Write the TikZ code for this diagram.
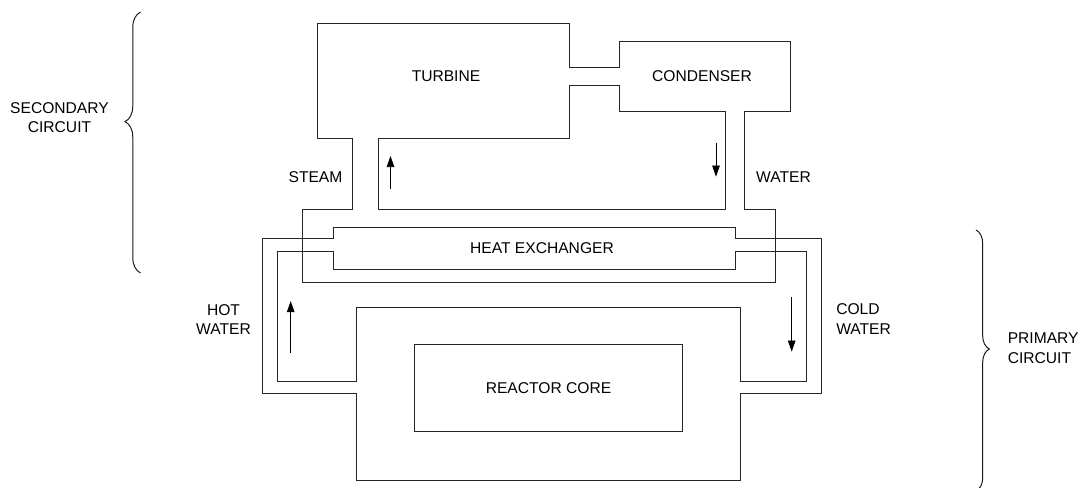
\documentclass[tikz,border=0pt]{standalone}
\usepackage{fontspec}
\setmainfont{Liberation Sans}
\usetikzlibrary{arrows.meta, decorations.pathreplacing}

\begin{document}
\begin{tikzpicture}[
    x=0.025cm, y=-0.025cm,
    wall/.style={draw=black!85, line width=0.8pt, line join=miter},
    lbl/.style={font=\fontsize{11.1}{13.9}\selectfont, align=center, inner sep=0pt},
    flow/.style={-{Triangle[length=2.8mm, width=1.9mm]}, line width=0.65pt},
    bracket/.style={draw=black!90, line width=0.7pt, decorate}]
  \useasboundingbox (0,0) rectangle (1079,487);
  % secondary circuit
  \draw[wall] (317.5,23.5) -- (569.5,23.5) -- (569.5,67.5) -- (619.5,67.5) -- (619.5,41.5) -- (790.5,41.5)
    -- (790.5,111.5) -- (744.5,111.5) -- (744.5,209.5) -- (775.5,209.5) -- (775.5,282.5)
    -- (302.5,282.5) -- (302.5,209.5) -- (352.5,209.5) -- (352.5,138.5) -- (317.5,138.5) -- cycle;
  \draw[wall] (378.5,138.5) -- (378.5,209.5) -- (725.5,209.5) -- (725.5,111.5) -- (619.5,111.5)
    -- (619.5,85.5) -- (569.5,85.5) -- (569.5,138.5) -- cycle;
  % primary circuit
  \draw[wall] (333.5,227.5) -- (735.5,227.5) -- (735.5,238.5) -- (821.5,238.5) -- (821.5,393.5)
    -- (740.5,393.5) -- (740.5,480.5) -- (356.5,480.5) -- (356.5,393.5) -- (262.5,393.5) -- (262.5,238.5)
    -- (333.5,238.5) -- cycle;
  \draw[wall] (333.5,251.5) -- (333.5,269.5) -- (735.5,269.5) -- (735.5,251.5) -- (806.5,251.5)
    -- (806.5,381.5) -- (740.5,381.5) -- (740.5,307.5) -- (356.5,307.5) -- (356.5,381.5)
    -- (277.5,381.5) -- (277.5,251.5) -- cycle;
  \node[wall, lbl, minimum width=6.7cm, minimum height=2.175cm] (core) at (548.5,388) {REACTOR CORE};
  % labels
  \node[lbl] (turbine) at (446,76) {TURBINE};
  \node[lbl] (condenser) at (702,76) {CONDENSER};
  \node[lbl] (steam) at (315.5,177.5) {STEAM};
  \node[lbl] (water) at (783.5,177.5) {WATER};
  \node[lbl] (exchanger) at (542,248) {HEAT EXCHANGER};
  \node[lbl] (hot) at (223.5,319.5) {HOT\\WATER};
  \node[lbl, align=left, anchor=west] (cold) at (836,319) {COLD\\WATER};
  \node[lbl] (secondary) at (59.5,117.5) {SECONDARY\\CIRCUIT};
  \node[lbl, align=left, anchor=west] (primary) at (1007.5,348) {PRIMARY\\CIRCUIT};
  % flow arrows
  \draw[flow] (390.5,189) -- (390.5,156);
  \draw[flow] (716,142.7) -- (716,176.7);
  \draw[flow] (290.7,352.7) -- (290.7,301);
  \draw[flow] (791.7,297.3) -- (791.7,351.7);
  % braces
  \draw[bracket, decoration={brace, amplitude=11pt, aspect=0.58}] (140.5,273) -- (140.5,12);
  \draw[bracket, decoration={brace, amplitude=9.5pt, aspect=0.456}] (976,230) -- (976,491);
\end{tikzpicture}
\end{document}
